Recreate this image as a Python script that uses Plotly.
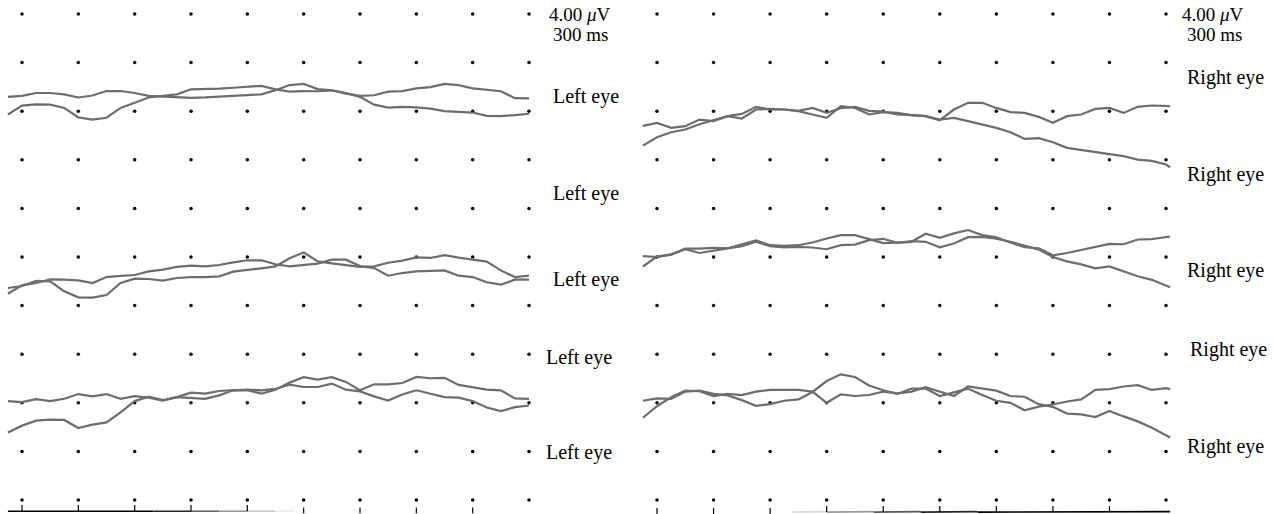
import plotly.graph_objects as go

# ---------------- data ----------------
# time samples (ms); one grid division = 300 ms, one row = 4 uV
t_left = [-75 + 75 * i for i in range(38)]          # -75 .. 2700
t_right = [-75 + 75 * i for i in range(38)] + [2722]

grid_t = [0, 300, 600, 900, 1200, 1500, 1800, 2100, 2400, 2700]
grid_v = [0, 4, 8, 12, 16, 20, 24, 28, 32, 36, 40]

# Left eye, recording 1 (around row 32)
left1_a = [33.18, 33.26, 33.50, 33.50, 33.39, 33.13, 33.29, 33.66, 33.66, 33.50,
           33.26, 33.21, 33.13, 33.10, 33.13, 33.21, 33.29, 33.34, 33.39, 33.72,
           34.15, 34.25, 33.82, 33.72, 33.50, 33.18, 32.54, 32.30, 32.35, 32.32,
           32.21, 32.00, 31.92, 31.89, 31.62, 31.60, 31.68, 31.79]
left1_b = [31.73, 32.46, 32.56, 32.54, 32.27, 31.49, 31.30, 31.46, 32.27, 32.67,
           33.13, 33.26, 33.39, 33.80, 33.80, 33.85, 33.93, 33.98, 34.09, 33.80,
           33.61, 33.66, 33.64, 33.72, 33.45, 33.26, 33.31, 33.61, 33.66, 33.88,
           33.98, 34.25, 34.15, 33.88, 33.77, 33.64, 33.07, 33.05]
# Left eye, recording 2 (around row 20)
left2_a = [16.98, 17.67, 17.86, 18.16, 18.13, 18.08, 17.86, 18.35, 18.44, 18.52,
           18.82, 18.96, 19.18, 19.29, 19.23, 19.34, 19.56, 19.73, 19.73, 19.40,
           19.23, 19.34, 19.45, 19.78, 19.78, 19.26, 19.09, 18.46, 18.68, 18.82,
           18.88, 18.90, 18.46, 18.35, 17.92, 17.72, 18.13, 18.13]
left2_b = [17.45, 17.61, 18.03, 18.00, 17.17, 16.68, 16.65, 16.87, 17.86, 18.22,
           18.19, 18.05, 18.27, 18.35, 18.35, 18.41, 18.79, 18.96, 19.07, 19.23,
           19.89, 20.38, 19.64, 19.48, 19.34, 19.18, 19.23, 19.53, 19.70, 19.97,
           19.92, 20.16, 19.95, 19.78, 19.62, 18.90, 18.35, 18.46]
# Left eye, recording 3 (around row 8)
left3_a = [8.14, 8.06, 8.30, 8.14, 8.33, 8.72, 8.53, 8.72, 8.33, 8.55,
           8.42, 8.17, 8.47, 8.83, 8.75, 8.97, 9.05, 9.03, 8.75, 9.08,
           9.66, 10.11, 9.91, 10.11, 9.72, 9.03, 9.52, 9.52, 9.63, 10.13,
           10.02, 10.05, 9.47, 9.25, 9.08, 9.03, 8.36, 8.33]
left3_b = [5.56, 6.12, 6.53, 6.61, 6.59, 5.92, 6.20, 6.39, 7.22, 8.14,
           8.50, 8.22, 8.47, 8.42, 8.33, 8.61, 9.03, 9.08, 9.03, 9.14,
           9.50, 9.30, 9.30, 9.58, 9.08, 8.94, 8.53, 8.19, 8.69, 9.03,
           8.75, 8.47, 8.42, 8.14, 7.61, 7.31, 7.64, 7.78]

# Right eye, recording 1
right1_a = [30.79, 31.04, 30.63, 30.77, 31.31, 31.18, 31.59, 31.40, 32.14, 32.19,
            32.14, 32.00, 31.73, 31.45, 32.41, 32.27, 31.73, 31.92, 31.86, 31.67,
            31.59, 31.26, 32.14, 32.69, 32.69, 32.27, 31.92, 31.86, 31.53, 31.04,
            31.59, 31.73, 32.19, 32.27, 31.86, 32.36, 32.47, 32.41, 32.41]
right1_b = [29.17, 29.86, 30.27, 30.49, 30.93, 31.26, 31.59, 31.78, 32.36, 32.14,
            32.14, 32.03, 32.27, 31.86, 32.25, 32.36, 32.03, 31.97, 31.73, 31.67,
            31.59, 31.31, 31.45, 31.18, 30.90, 30.63, 30.27, 29.72, 29.78, 29.45,
            28.98, 28.79, 28.63, 28.46, 28.30, 28.02, 27.91, 27.61, 27.39]
# Right eye, recording 2
right2_a = [20.08, 20.00, 20.19, 20.69, 20.69, 20.75, 20.72, 21.02, 21.36, 20.97,
            20.91, 20.97, 21.19, 21.52, 21.80, 21.80, 21.50, 21.14, 21.19, 21.25,
            21.91, 21.58, 21.94, 22.22, 21.80, 21.61, 21.19, 20.80, 20.72, 20.14,
            20.33, 20.58, 20.83, 21.08, 21.05, 21.44, 21.47, 21.61, 21.69]
right2_b = [19.22, 20.03, 20.22, 20.64, 20.33, 20.53, 20.69, 20.89, 21.25, 20.89,
            20.80, 20.83, 20.78, 20.64, 20.97, 21.02, 21.39, 21.50, 21.16, 21.30,
            21.25, 20.80, 21.11, 21.63, 21.66, 21.50, 21.25, 20.91, 20.61, 20.00,
            19.64, 19.39, 19.06, 19.22, 18.81, 18.42, 18.12, 17.65, 17.51]
# Right eye, recording 3
right3_a = [8.17, 8.36, 8.33, 8.92, 9.00, 8.73, 8.61, 8.22, 7.75, 7.89,
            8.17, 8.28, 8.89, 9.79, 10.34, 10.12, 9.42, 9.03, 8.73, 9.17,
            9.17, 8.56, 8.86, 9.17, 8.64, 8.17, 8.00, 7.39, 7.69, 7.86,
            8.11, 8.28, 9.06, 9.12, 9.34, 9.45, 9.06, 9.20, 9.12]
right3_b = [6.77, 7.72, 8.45, 9.00, 8.95, 8.56, 8.73, 8.64, 8.92, 9.06,
            9.06, 9.06, 8.92, 8.00, 8.70, 8.56, 8.64, 8.92, 8.78, 8.92,
            9.28, 8.92, 8.56, 9.34, 9.20, 9.00, 8.56, 8.50, 7.89, 7.67,
            7.11, 7.05, 6.83, 7.33, 6.88, 6.47, 5.94, 5.38, 5.15]

scale_text = "4.00 <i>\u03bc</i>V"
time_text = "300 ms"
left_label = "Left eye"
right_label = "Right eye"

# ---------------- figure ----------------
W, H = 1274, 514
fig = go.Figure()

TRACE_COLOR = "#6d6d6d"
TRACE_W = 2.2

def add_trace(x, y, axis):
    fig.add_trace(go.Scatter(x=x, y=y, mode="lines", xaxis=axis, yaxis="y",
                             line=dict(color=TRACE_COLOR, width=TRACE_W),
                             hoverinfo="skip", showlegend=False))

# grid dots
for axis in ["x", "x2"]:
    gx, gy = [], []
    for v in grid_v:
        for t in grid_t:
            gx.append(t)
            gy.append(v)
    fig.add_trace(go.Scatter(x=gx, y=gy, mode="markers", xaxis=axis, yaxis="y",
                             marker=dict(color="black", size=3.5),
                             hoverinfo="skip", showlegend=False))

for tr in [left1_a, left1_b, left2_a, left2_b, left3_a, left3_b]:
    add_trace(t_left, tr, "x")
for tr in [right1_a, right1_b, right2_a, right2_b, right3_a, right3_b]:
    add_trace(t_right, tr, "x2")

# bottom time axis (fading line + ticks)
def gray(level):
    c = int(round(255 * level))
    return f"rgb({c},{c},{c})"

left_line_t = [-75, 700, 900, 1050, 1200, 1350, 1450]
left_line_g = [0.0, 0.15, 0.4, 0.6, 0.8, 0.93]
for i in range(len(left_line_g)):
    fig.add_trace(go.Scatter(x=left_line_t[i:i + 2], y=[-0.92, -0.92], mode="lines",
                             xaxis="x", yaxis="y", line=dict(color=gray(left_line_g[i]), width=1.6),
                             hoverinfo="skip", showlegend=False))
right_line_t = [720, 900, 1150, 1400, 1700, 2722]
right_line_g = [0.85, 0.6, 0.35, 0.15, 0.0]
for i in range(len(right_line_g)):
    fig.add_trace(go.Scatter(x=right_line_t[i:i + 2], y=[-1.0, -0.96], mode="lines",
                             xaxis="x2", yaxis="y", line=dict(color=gray(right_line_g[i]), width=1.6),
                             hoverinfo="skip", showlegend=False))

def ticks(ts, v0, v1, axis):
    xs, ys = [], []
    for t in ts:
        xs += [t, t, None]
        ys += [v0, v1, None]
    fig.add_trace(go.Scatter(x=xs, y=ys, mode="lines", xaxis=axis, yaxis="y",
                             line=dict(color="black", width=1.2),
                             hoverinfo="skip", showlegend=False))

ticks(grid_t[0:5], -0.42, -0.92, "x")
ticks(grid_t[5:9], -0.62, -1.1, "x")
ticks(grid_t[0:3], -0.66, -1.15, "x2")
ticks(grid_t[3:9], -0.5, -0.98, "x2")

# axis ranges derived from pixel anchors of the panels
px_per_ms_l = (529 - 22) / 2700
px_per_ms_r = (1166 - 657) / 2700
x_range_l = [(0 - 22) / px_per_ms_l, (W - 22) / px_per_ms_l]
x_range_r = [(0 - 657) / px_per_ms_r, (W - 657) / px_per_ms_r]
row_px = 48.6
y_top_px = 14
v_per_px = 4 / row_px
y_range = [40 - (H - y_top_px) * v_per_px, 40 + y_top_px * v_per_px]

SERIF = "Liberation Serif, Times New Roman, serif"
FS = 20

annotations = []
def label(text, px, py, anchor="left", size=FS):
    annotations.append(dict(text=text, xref="paper", yref="paper",
                            x=px / W, y=1 - py / H, xanchor=anchor, yanchor="middle",
                            showarrow=False, font=dict(family=SERIF, size=size, color="black")))

label(scale_text, 580, 14, "center", 19)
label(time_text, 580, 35, "center", 19)
for (px, py) in [(551, 96), (551, 193), (551, 279), (544, 357), (544, 452)]:
    label(left_label, px, py)

label(scale_text, 1213, 14, "center", 19)
label(time_text, 1214, 35, "center", 19)
for (px, py) in [(1185, 77), (1185, 174), (1185, 270), (1188, 349), (1185, 446)]:
    label(right_label, px, py)

fig.update_layout(
    width=W, height=H,
    margin=dict(l=0, r=0, t=0, b=0),
    paper_bgcolor="white", plot_bgcolor="white",
    xaxis=dict(domain=[0, 1], range=x_range_l, visible=False, fixedrange=True),
    xaxis2=dict(domain=[0, 1], range=x_range_r, visible=False, overlaying="x", anchor="y", fixedrange=True),
    yaxis=dict(domain=[0, 1], range=y_range, visible=False, fixedrange=True),
    annotations=annotations,
    showlegend=False,
)

fig.write_html("out.html", config={"displayModeBar": False},
               post_script="document.body.style.margin='0px';document.body.style.overflow='hidden';")
